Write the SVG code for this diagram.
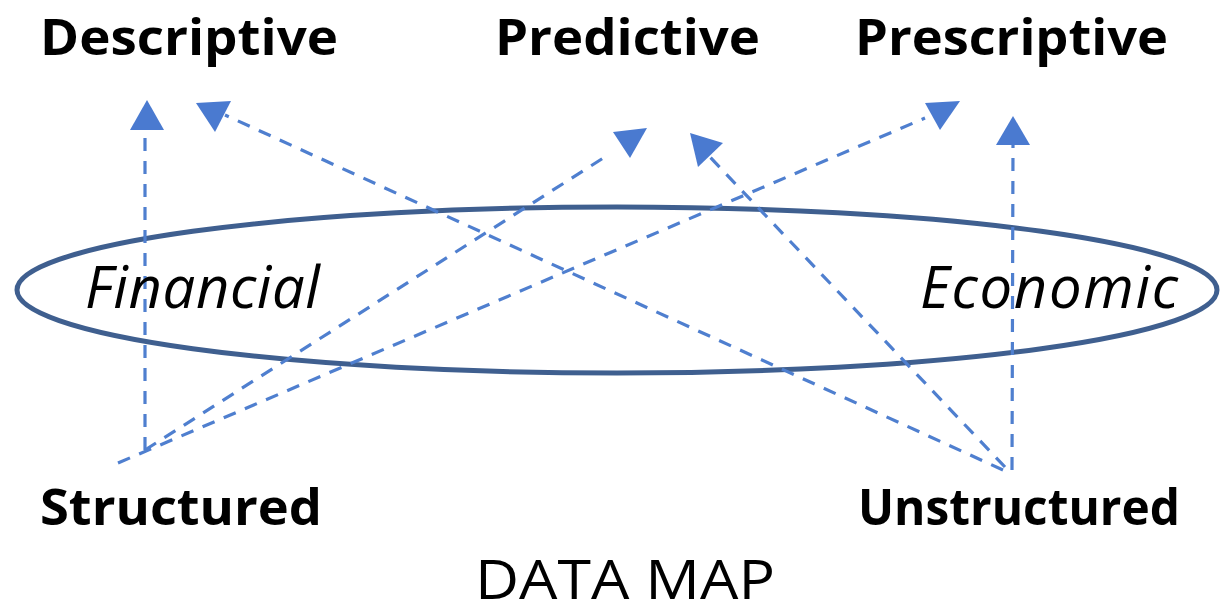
<svg xmlns="http://www.w3.org/2000/svg" width="1220" height="615" viewBox="0 0 1220 615">
<style>
.lbl{font-family:"Open Sans","Noto Sans","Liberation Sans",sans-serif;font-weight:bold;font-size:51px;fill:#000}
.it{font-family:"Open Sans","Noto Sans","Liberation Sans",sans-serif;font-style:italic;font-size:58px;fill:#000}
.ttl{font-family:"Open Sans","Noto Sans","Liberation Sans",sans-serif;font-size:54px;fill:#000}
.dn{fill:none;stroke:#4f7fcf;stroke-width:3.2;stroke-dasharray:13 10}
</style>
<rect width="1220" height="615" fill="#fff"/>
<g id="ellipse">
<ellipse cx="617" cy="290" rx="600" ry="83" fill="none" stroke="#3f5f8f" stroke-width="5"/>
</g>
<g id="connectors">
<line x1="145" y1="450" x2="145" y2="130" class="dn"/>
<line x1="145" y1="450" x2="608" y2="155" class="dn"/>
<line x1="118" y1="463" x2="925" y2="118" class="dn"/>
<line x1="1012" y1="470" x2="1013" y2="145" class="dn"/>
<line x1="1003" y1="470" x2="225" y2="115" class="dn"/>
<line x1="1005" y1="467" x2="708" y2="155" class="dn"/>
<polygon points="130,130 164,130 147,100" fill="#4a7ad0"/>
<polygon points="996,145 1030,145 1013,116" fill="#4a7ad0"/>
<polygon points="196,103 231,101 215,132" fill="#4a7ad0"/>
<polygon points="613,132 647,128 630,158" fill="#4a7ad0"/>
<polygon points="690,133 723,143 698,167" fill="#4a7ad0"/>
<polygon points="925,103 960,101 940,130" fill="#4a7ad0"/>
</g>
<g id="descriptive"><text x="40" y="55" class="lbl" textLength="298" lengthAdjust="spacingAndGlyphs">Descriptive</text></g>
<g id="predictive"><text x="495" y="55" class="lbl" textLength="265" lengthAdjust="spacingAndGlyphs">Predictive</text></g>
<g id="prescriptive"><text x="855" y="55" class="lbl" textLength="313" lengthAdjust="spacingAndGlyphs">Prescriptive</text></g>
<g id="structured"><text x="40" y="525" class="lbl" textLength="282" lengthAdjust="spacingAndGlyphs">Structured</text></g>
<g id="unstructured"><text x="858" y="525" class="lbl" textLength="322" lengthAdjust="spacingAndGlyphs">Unstructured</text></g>
<g id="financial"><text x="85" y="308" class="it" textLength="235">Financial</text></g>
<g id="economic"><text x="920" y="308" class="it" textLength="258">Economic</text></g>
<g id="title"><text x="475" y="599" class="ttl" textLength="300" lengthAdjust="spacingAndGlyphs">DATA MAP</text></g>
</svg>
